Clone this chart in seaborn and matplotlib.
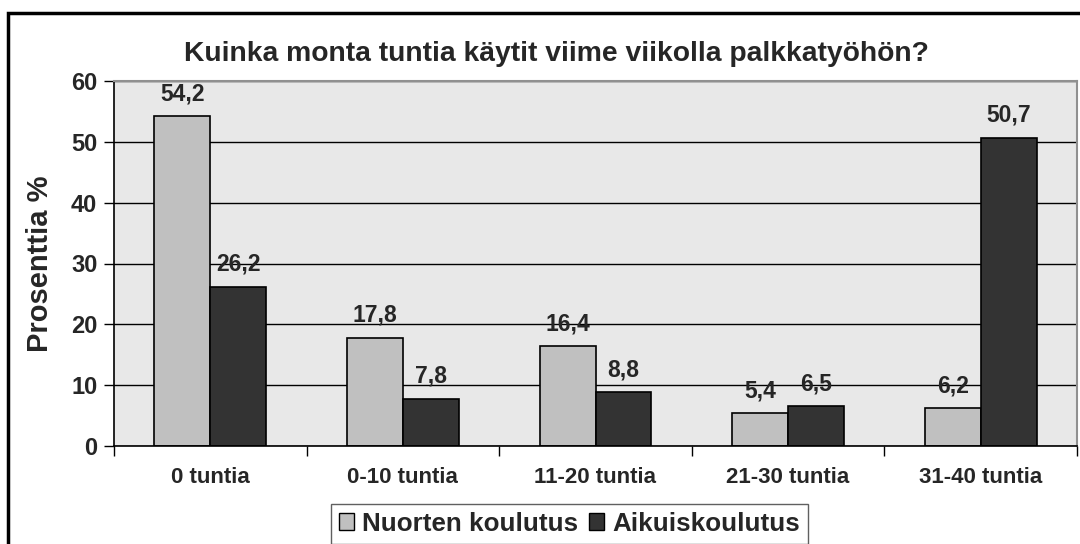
import matplotlib.pyplot as plt
import matplotlib.patches as mpatches
import pandas as pd
import seaborn as sns

categories = ['0 tuntia', '0-10 tuntia', '11-20 tuntia', '21-30 tuntia', '31-40 tuntia']
nuorten = [54.2, 17.8, 16.4, 5.4, 6.2]
aikuis = [26.2, 7.8, 8.8, 6.5, 50.7]
series = ['Nuorten koulutus', 'Aikuiskoulutus']
colors = ['#c0c0c0', '#333333']

df = pd.DataFrame({
    'luokka': categories * 2,
    'ryhma': [series[0]] * 5 + [series[1]] * 5,
    'arvo': nuorten + aikuis,
})

sns.set_style('white')
plt.rcParams['font.family'] = ['Liberation Sans', 'DejaVu Sans']

fig = plt.figure(figsize=(10.8, 5.44), dpi=100)
ax = fig.add_axes([114 / 1080, 1 - 446 / 544, 963 / 1080, 365 / 544])

sns.barplot(data=df, x='luokka', y='arvo', hue='ryhma', palette=colors,
            width=0.58, edgecolor='black', linewidth=1.2, saturation=1,
            ax=ax, legend=False)

# labels with finnish decimal comma
for cont in ax.containers:
    ax.bar_label(cont, labels=[f'{b.get_height():.1f}'.replace('.', ',') for b in cont],
                 padding=8, fontsize=16.5, fontweight='bold')

ax.set_facecolor('#e8e8e8')
ax.set_ylim(0, 60)
ax.set_xlim(-0.5, 4.5)
ax.set_yticks(range(0, 61, 10))
ax.yaxis.grid(True, color='black', linewidth=1)
ax.set_axisbelow(True)
ax.set_xlabel('')
ax.set_ylabel('Prosenttia %', fontsize=21, fontweight='bold', labelpad=12)
ax.tick_params(axis='y', labelsize=17, length=7, width=1, color='black', pad=5, left=True)
ax.tick_params(axis='x', labelsize=16, length=0, pad=15)
for lab in ax.get_xticklabels() + ax.get_yticklabels():
    lab.set_fontweight('bold')

# category separator ticks
ax.set_xticks([-0.5, 0.5, 1.5, 2.5, 3.5, 4.5], minor=True)
ax.tick_params(axis='x', which='minor', length=7, width=1, color='black', bottom=True)

for side in ['left', 'bottom']:
    ax.spines[side].set_color('black')
    ax.spines[side].set_linewidth(1.2)
for side in ['top', 'right']:
    ax.spines[side].set_color('#909090')
    ax.spines[side].set_linewidth(1.5)

fig.text(556 / 1080, 1 - 54 / 544, 'Kuinka monta tuntia käytit viime viikolla palkkatyöhön?',
         ha='center', va='center', fontsize=20.3, fontweight='bold')

handles = [mpatches.Patch(facecolor=c, edgecolor='black', linewidth=1) for c in colors]
leg = fig.legend(handles, series, loc='upper left', bbox_to_anchor=(331 / 1080, 1 - 504 / 544),
                 ncol=2, frameon=True, fancybox=False, framealpha=1, edgecolor='#606060',
                 prop={'size': 18.7, 'weight': 'bold'}, handlelength=0.6, handleheight=0.6,
                 handletextpad=0.3, columnspacing=0.4, borderpad=0.3, borderaxespad=0)

# outer frame of the figure
fig.patches.append(mpatches.Rectangle((8 / 1080, -0.1), 1.2, 1 - 13 / 544 + 0.1,
                                      transform=fig.transFigure, fill=False,
                                      edgecolor='black', linewidth=2.5))

fig.savefig('out.png', dpi=100)
